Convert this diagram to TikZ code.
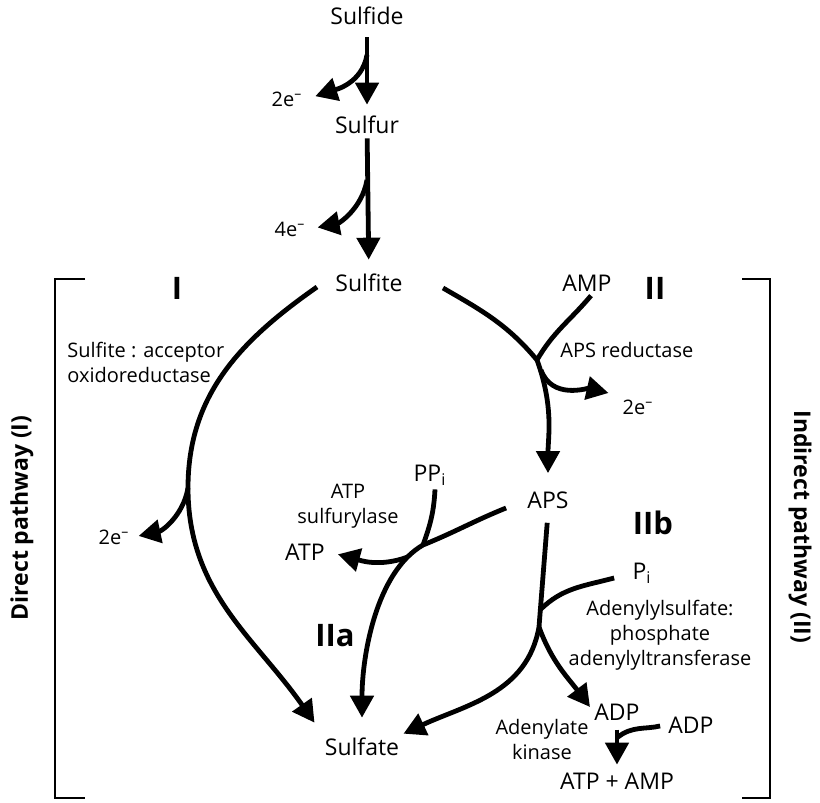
\documentclass[tikz,border=0pt]{standalone}
\usepackage{fontspec}
\setmainfont{Open Sans}
\usepackage{tikz}
\usetikzlibrary{arrows.meta, positioning, calc}

\begin{document}
\begin{tikzpicture}[
  x=0.5pt, y=0.5pt,
  lbl/.style={inner sep=2pt, font=\fontsize{11.5}{13}\selectfont},
  small/.style={inner sep=2pt, font=\fontsize{10}{12}\selectfont},
  enz/.style={inner sep=2pt, align=center, font=\fontsize{10}{12.5}\selectfont},
  num/.style={inner sep=2pt, font=\fontsize{15.5}{17}\selectfont\bfseries},
  side/.style={inner sep=2pt, font=\fontsize{11.5}{13}\selectfont\bfseries},
  arr/.style={-{Triangle[length=11pt, width=11.5pt]}, line width=2.4pt},
  flow/.style={line width=2.4pt},
  bracket/.style={line width=1pt}
]
  \useasboundingbox (0,0) rectangle (820,803);
  \node[lbl] (sulfide) at (367,787) {Sulfide};
  \node[lbl] (sulfur) at (367,678) {Sulfur};
  \node[lbl] (sulfite) at (369,520) {Sulfite};
  \node[small] (e1) at (287,704) {2e\textsuperscript{–}};
  \node[small] (e2) at (290,574) {4e\textsuperscript{–}};
  \node[num] (numI) at (177,515) {I};
  \node[enz, align=left, anchor=west] (sao) at (63,441) {Sulfite : acceptor\\oxidoreductase};
  \node[small] (e3) at (114,266) {2e\textsuperscript{–}};
  \node[lbl] (amp) at (587,520) {AMP};
  \node[num] (numII) at (655,515) {II};
  \node[enz, anchor=west] (apsred) at (556,453) {APS reductase};
  \node[small] (e4) at (638,396) {2e\textsuperscript{–}};
  \node[lbl] (aps) at (548,303) {APS};
  \node[num] (numIIb) at (653,280) {IIb};
  \node[lbl] (ppi) at (430,328) {PP\textsubscript{i}};
  \node[enz] (sulfurylase) at (348,297) {ATP\\sulfurylase};
  \node[lbl] (atp) at (305,251) {ATP};
  \node[lbl] (pi) at (642,230) {P\textsubscript{i}};
  \node[enz] (adtrans) at (660,168) {Adenylylsulfate:\\phosphate\\adenylyltransferase};
  \node[num] (numIIa) at (335,167) {IIa};
  \node[lbl] (sulfate) at (362,56) {Sulfate};
  \node[lbl] (adp1) at (617,91) {ADP};
  \node[lbl, right=10pt of adp1, yshift=-6.5pt] (adp2) {ADP};
  \node[enz] (kinase) at (542,63) {Adenylate\\kinase};
  \node[lbl, below=22pt of adp1] (atpamp) {ATP + AMP};
  \node[side, rotate=90] (direct) at (22,285) {Direct pathway (I)};
  \node[side, rotate=-90] (indirect) at (800,276) {Indirect pathway (II)};

  \coordinate (j1) at (367,748);
  \coordinate (j2) at (367,623);
  \coordinate (jI) at (188,315);
  \coordinate (jII) at (537,443);
  \coordinate (jIIe) at (541,433);
  \coordinate (jA) at (423,258);
  \coordinate (jP) at (540,193);
  \coordinate (jD) at (539,176);

  \draw[bracket] (85,524) -- (55,524) -- (55,5) -- (85,5);
  \draw[bracket] (742,524) -- (770,524) -- (770,5) -- (742,5);

  \draw[arr, shorten <=4pt, shorten >=3.5pt] (sulfide) -- (sulfur);
  \draw[arr, shorten >=5pt] (sulfur) -- (sulfite);
  \draw[arr, shorten >=4.5pt] (j1) to[out=-100, in=18] (e1.east);
  \draw[arr, shorten >=4pt] (j2) to[out=-100, in=11] (e2.east);
  \draw[arr] ([shift={(-7pt,-2pt)}]sulfite.west) to[out=215, in=90] (jI) to[out=-90, in=125] ([shift={(-3pt,5.5pt)}]sulfate.north west);
  \draw[arr, shorten >=2.5pt] (jI) to[out=-100, in=12] (e3.east);
  \draw[arr, shorten >=7pt] ([shift={(18pt,-2.5pt)}]sulfite.east) to[out=-30, in=130] (jII) to[out=-70, in=90] (aps.north);
  \draw[flow] ([xshift=2pt]amp.south) to[out=-130, in=60] (jII);
  \draw[arr, shorten >=5pt] (jIIe) to[out=-70, in=167] (e4.north west);
  \draw[arr, shorten >=8pt] ([shift={(-8.5pt,-4pt)}]aps.west) to[out=202, in=22] (jA) to[out=210, in=90, out looseness=0.7] coordinate[pos=0.12] (jT) (sulfate.north);
  \draw[flow] ([xshift=2.5pt]ppi.south) to[out=-93, in=70] (jA);
  \draw[arr, shorten >=4.5pt] (jT) to[out=200, in=-15] (atp.east);
  \draw[arr, shorten <=5pt] (aps.south) -- (jD) to[out=-100, in=25] (sulfate.north east);
  \draw[flow] ([shift={(-7pt,-2.5pt)}]pi.west) to[out=195, in=45] (jP);
  \draw[arr] (jD) to[out=-70, in=127] ([yshift=2.5pt]adp1.west);
  \draw[arr, shorten <=2.5pt, shorten >=2pt] (adp1) -- coordinate[pos=0.3] (jK) (atpamp);
  \draw[flow, shorten <=2pt] (adp2.west) to[out=194, in=40] (jK);
\end{tikzpicture}
\end{document}
